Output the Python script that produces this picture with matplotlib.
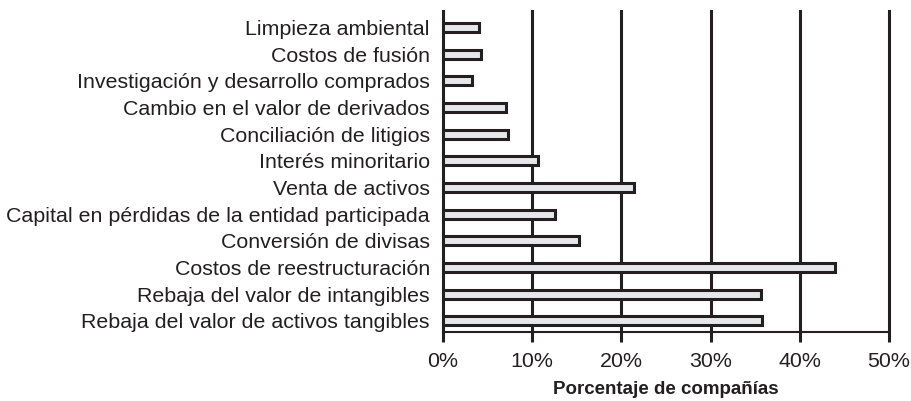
import matplotlib
matplotlib.use("Agg")
import matplotlib.pyplot as plt
from matplotlib.ticker import FuncFormatter

plt.rcParams['font.family'] = ['Liberation Sans', 'DejaVu Sans']

categories = [
    "Limpieza ambiental",
    "Costos de fusión",
    "Investigación y desarrollo comprados",
    "Cambio en el valor de derivados",
    "Conciliación de litigios",
    "Interés minoritario",
    "Venta de activos",
    "Capital en pérdidas de la entidad participada",
    "Conversión de divisas",
    "Costos de reestructuración",
    "Rebaja del valor de intangibles",
    "Rebaja del valor de activos tangibles",
]
values = [4.0, 4.3, 3.3, 7.1, 7.3, 10.6, 21.4, 12.6, 15.3, 44.0, 35.7, 35.8]
xticks = [0, 10, 20, 30, 40, 50]
xlabel = "Porcentaje de compañías"

ink = "#231f20"
fill = "#e6e7e8"

fig = plt.figure(figsize=(9.12, 4.01), dpi=100)
ax = fig.add_axes([0.4857, 0.172, 0.4891, 0.8008])

n = len(categories)
ypos = list(range(n - 1, -1, -1))
ax.barh(ypos, values, height=0.33, color=fill, edgecolor=ink, linewidth=2.2, zorder=3)

ax.set_xlim(0, 50)
ax.set_ylim(-0.42, n - 1 + 0.62)
ax.set_xticks(xticks)
ax.xaxis.set_major_formatter(FuncFormatter(lambda v, p: f"{v:.0f}%"))
ax.set_yticks(ypos)
ax.set_yticklabels(categories, fontsize=15.4, color=ink)

for x in xticks[1:]:
    ax.axvline(x, color=ink, linewidth=2.2, zorder=1, clip_on=False)

for side in ("top", "right"):
    ax.spines[side].set_visible(False)
ax.spines["left"].set_linewidth(2.2)
ax.spines["left"].set_color(ink)
ax.spines["bottom"].set_linewidth(1.5)
ax.spines["bottom"].set_color(ink)

ax.tick_params(axis="y", length=0, pad=9.5)
ax.tick_params(axis="x", length=7.5, width=2.2, color=ink, labelsize=15.4,
               labelcolor=ink, pad=7)

ax.set_xlabel(xlabel, fontsize=13.5, fontweight="bold", color=ink, labelpad=7)

fig.savefig("out.png", dpi=100)
